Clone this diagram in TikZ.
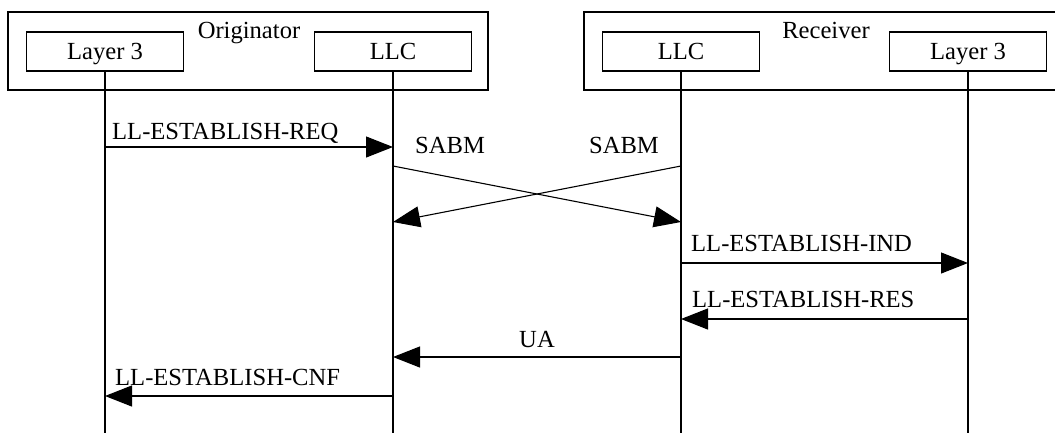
\documentclass[tikz,border=0pt]{standalone}
\usepackage{fontspec}
\setmainfont{Liberation Serif}
\usetikzlibrary{arrows.meta}
\begin{document}
\begin{tikzpicture}[x=1pt,y=-1pt,
  every node/.style={font=\fontsize{24.6}{28}\selectfont},
  entity/.style={draw,line width=1.2pt,minimum width=157pt,minimum height=39pt,inner sep=0pt,text height=16pt,text depth=0pt},
  group/.style={draw,line width=1.2pt,minimum width=480pt,minimum height=78pt,inner sep=0pt},
  lifeline/.style={line width=1.1pt},
  msg/.style={line width=1.1pt,-{Triangle[length=27pt,width=21pt]}},
  lbl/.style={inner sep=0pt}]
\useasboundingbox (0,0) rectangle (1055,432);
% groups
\node[group] (orig) at (248,51) {};
\node[group] (recv) at (824,51) {};
\node[lbl,anchor=base] (origlbl) at (249,38) {Originator};
\node[lbl,anchor=base] (recvlbl) at (826,38) {Receiver};
% entities
\node[entity] (oL3) at (105,51.5) {Layer 3};
\node[entity] (oLLC) at (393,51.5) {LLC};
\node[entity] (rLLC) at (681,51.5) {LLC};
\node[entity] (rL3) at (968,51.5) {Layer 3};
% lifeline ends
\coordinate (oL3end) at (105,433);
\coordinate (oLLCend) at (393,433);
\coordinate (rLLCend) at (681,433);
\coordinate (rL3end) at (968,433);
\draw[lifeline] (oL3.south) -- (oL3end);
\draw[lifeline] (oLLC.south) -- (oLLCend);
\draw[lifeline] (rLLC.south) -- (rLLCend);
\draw[lifeline] (rL3.south) -- (rL3end);
% messages
\draw[msg] (oL3.south |- 0,147) -- (oLLC.south |- 0,147);
\node[lbl,anchor=base west] (reqlbl) at (112,139) {LL-ESTABLISH-REQ};
\draw[msg] (oLLC.south |- 0,166) -- (rLLC.south |- 0,222);
\draw[msg] (rLLC.south |- 0,166) -- (oLLC.south |- 0,222);
\node[lbl,anchor=base west] (sabm1) at (415,153) {SABM};
\node[lbl,anchor=base east] (sabm2) at (659,153) {SABM};
\draw[msg] (rLLC.south |- 0,263) -- (rL3.south |- 0,263);
\node[lbl,anchor=base west] (indlbl) at (691,251) {LL-ESTABLISH-IND};
\draw[msg] (rL3.south |- 0,319) -- (rLLC.south |- 0,319);
\node[lbl,anchor=base west] (reslbl) at (692,307) {LL-ESTABLISH-RES};
\draw[msg] (rLLC.south |- 0,357) -- (oLLC.south |- 0,357);
\node[lbl,anchor=base] (ualbl) at (537,347) {UA};
\draw[msg] (oLLC.south |- 0,396) -- (oL3.south |- 0,396);
\node[lbl,anchor=base west] (cnflbl) at (115,385) {LL-ESTABLISH-CNF};
\end{tikzpicture}
\end{document}
